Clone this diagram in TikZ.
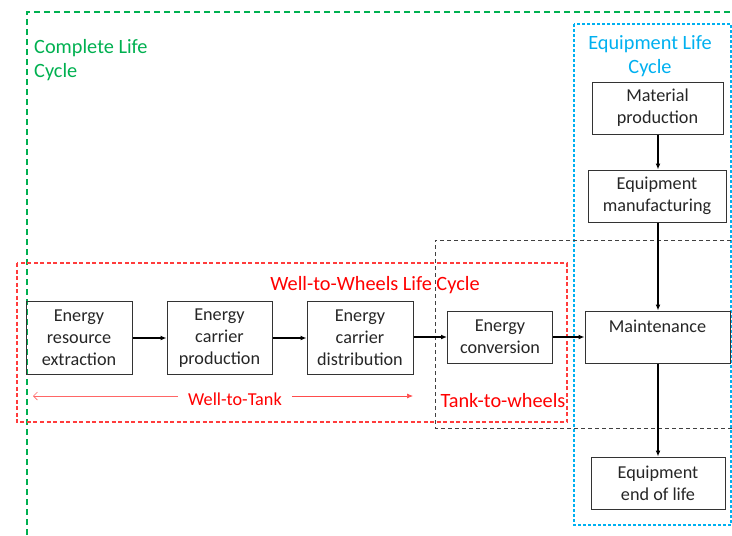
\documentclass[tikz,border=0pt]{standalone}
\usepackage{fontspec}
\setmainfont{Carlito}
\usetikzlibrary{arrows.meta,calc}
\definecolor{cgreen}{RGB}{0,176,80}
\definecolor{cblue}{RGB}{0,176,240}
\definecolor{cred}{RGB}{255,0,0}
\definecolor{cframe}{RGB}{255,60,60}
\tikzset{
  box/.style={draw=black!80, line width=1pt, align=center, inner sep=0pt,
    font=\fontsize{18.2}{22}\selectfont, text=black!85},
  flow/.style={line width=1.4pt, -{Latex[length=6pt,width=5pt]}},
  lbl/.style={font=\fontsize{20.3}{24}\selectfont, align=center, inner sep=0pt},
}
\begin{document}
\begin{tikzpicture}[x=1pt,y=-1pt]
\useasboundingbox (0,0) rectangle (732,536);
% frames
\draw[cgreen, line width=1.3pt, dash pattern=on 6pt off 4pt] (27,545) -- (27,12) -- (745,12);
\draw[cblue, line width=1.1pt, dash pattern=on 3pt off 2pt] (574,24) rectangle (731,525);
\draw[black!75, line width=0.9pt, dash pattern=on 4pt off 3pt] (745,240) -- (435,240) -- (435,428) -- (745,428);
\draw[cframe, line width=1.1pt, dash pattern=on 4pt off 2.5pt] (17,263) rectangle (567,422);
% labels
\node[lbl, text=cgreen, anchor=west, align=left] (tcl) at (34,60) {Complete Life\\Cycle};
\node[lbl, text=cblue] (tel) at (650,56) {Equipment Life\\Cycle};
\node[lbl, text=cred] (tww) at (375,285) {Well-to-Wheels Life Cycle};
\node[lbl, text=cred] (ttw) at (503,401) {Tank-to-wheels};
\node[lbl, text=cred, inner xsep=10pt, font=\fontsize{18.2}{22}\selectfont] (wtt) at (235,399) {Well-to-Tank};
\coordinate (wtl) at (33,396);
\coordinate (wtr) at (413,396);
\draw[cred!60, line width=0.7pt, {Straight Barb[length=4pt,width=8pt]}-] (wtl) -- (wtt.west |- wtl);
\draw[cred!70, line width=0.7pt, -{Latex[length=6pt,width=5pt]}] (wtt.east |- wtr) -- (wtr);
% boxes
\node[box, minimum width=106pt, minimum height=73pt] (ere) at (79,338) {Energy\\resource\\extraction};
\node[box, minimum width=105pt, minimum height=73pt] (ecp) at (219.5,338) {Energy\\carrier\\production};
\node[box, minimum width=106pt, minimum height=73pt] (ecd) at (360,338) {Energy\\carrier\\distribution};
\node[box, minimum width=105pt, minimum height=52pt] (ec) at (500,337) {Energy\\conversion};
\node[box, minimum width=131pt, minimum height=52pt] (mp) at (657.5,108) {Material\\production};
\node[box, minimum width=138pt, minimum height=52pt] (em) at (657,196) {Equipment\\manufacturing};
\node[box, minimum width=145pt, minimum height=52pt] (mt) at (657.5,337) {};
\node[box, draw=none] (mtt) at (657.5,326) {Maintenance};
\node[box, minimum width=134pt, minimum height=52pt] (eol) at (658,483) {Equipment\\end of life};
% connectors
\draw[flow] (ere.east) -- (ecp.west);
\draw[flow] (ecp.east) -- (ecd.west);
\draw[flow] (ecd.east |- ec.west) -- (ec.west);
\draw[flow] (ec.east) -- (mt.west);
\draw[flow] ([xshift=0.5pt]mp.south) -- ([xshift=0.5pt]mp.south |- em.north);
\draw[flow] ([xshift=1pt]em.south) -- ([xshift=1pt]em.south |- mt.north);
\draw[flow] ([xshift=0.5pt]mt.south) -- ([xshift=0.5pt]mt.south |- eol.north);
\end{tikzpicture}
\end{document}
